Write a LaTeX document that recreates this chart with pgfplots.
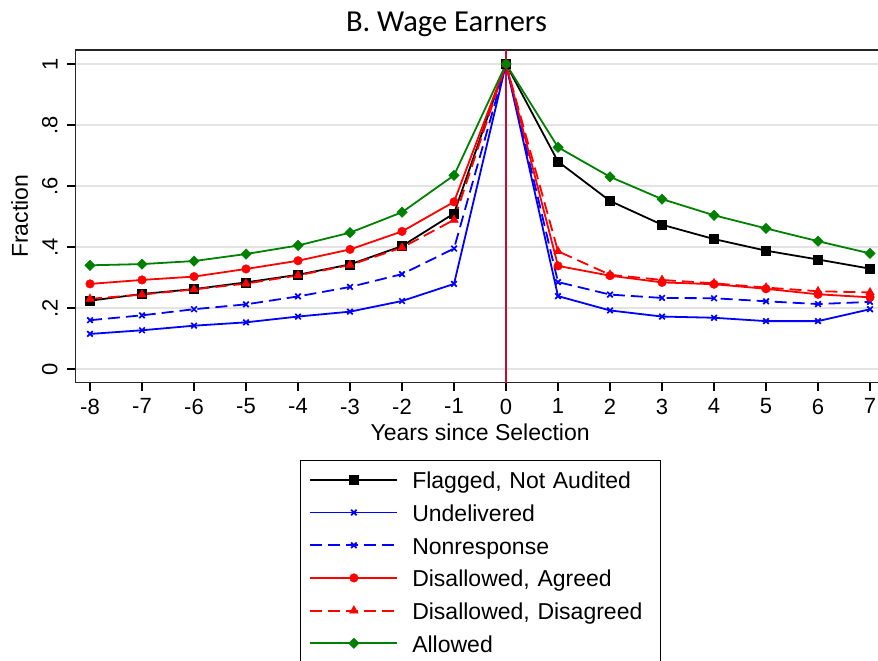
\documentclass[border=0pt]{standalone}
\usepackage{pgfplots}
\pgfplotsset{compat=1.18}
\usepackage{fontspec}
\setmainfont{Liberation Sans}
\newfontfamily\titlefont{Carlito}
\definecolor{vline}{RGB}{200,10,50}
\definecolor{sgreen}{RGB}{0,128,0}
\definecolor{sblue}{RGB}{0,0,255}
\definecolor{sred}{RGB}{255,0,0}
\begin{document}
\begin{tikzpicture}
\begin{axis}[
  at={(0,0)}, anchor=south west,
  scale only axis, width=804.7bp, height=332.7bp,
  xmin=-8.283, xmax=7.192, ymin=-0.0449, ymax=1.0459,
  xtick={-8,-7,-6,-5,-4,-3,-2,-1,0,1,2,3,4,5,6,7},
  xticklabels={-8,-7,-6,-5,-4,-3,-2,-1,0,1,2,3,4,5,6,7},
  ytick={0,0.2,0.4,0.6,0.8,1},
  yticklabels={0,.2,.4,.6,.8,1},
  tick align=outside, xtick pos=bottom, ytick pos=left,
  major tick length=8bp,
  tick style={line width=1.2bp, black},
  axis line style={line width=1.3bp, black!85},
  ymajorgrids, grid style={line width=1.5bp, black!11},
  xticklabel style={font=\fontsize{22bp}{26bp}\selectfont, anchor=north, inner sep=0pt, yshift=-7.8bp},
  yticklabel style={font=\fontsize{22bp}{26bp}\selectfont, xshift=-9.5bp, rotate=90, anchor=south, inner sep=0pt},
  every axis x label/.style={at={(axis description cs:0.5,0)}, xshift=2.5bp, yshift=-40.6bp, anchor=north, inner sep=0pt, font=\fontsize{23bp}{27bp}\selectfont},
  every axis y label/.style={at={(axis description cs:0,0.5)}, xshift=-47bp, rotate=90, anchor=south, inner sep=0pt, font=\fontsize{23bp}{27bp}\selectfont},
  xlabel={Years since Selection},
  ylabel={Fraction},
  legend style={at={(0.2792,-0.2323)}, anchor=north west, draw=black, line width=1bp, fill=white,
    inner xsep=9bp, inner ysep=9bp, row sep=12bp, column sep=14bp,
    font=\fontsize{23bp}{27bp}\selectfont, nodes={inner sep=0pt}, cells={anchor=west},
    /tikz/column 2/.style={text height=19.2bp, text depth=2.8bp, text width=239bp, align=left}},
  legend image code/.code={\draw[mark repeat=2, mark phase=2] plot coordinates {(0bp,0bp) (43.5bp,0bp) (87bp,0bp)};},
]
\addplot[forget plot, vline, line width=1.7bp] coordinates {(0,-0.0449) (0,1.0459)};

\addplot[black, line width=1.8bp, mark=square*, mark size=4.4bp, mark options={solid, line width=0.4bp}] coordinates {
(-8,0.224) (-7,0.246) (-6,0.262) (-5,0.284) (-4,0.309) (-3,0.343) (-2,0.403) (-1,0.510)
(0,1) (1,0.680) (2,0.551) (3,0.473) (4,0.426) (5,0.388) (6,0.359) (7,0.329)};
\addlegendentry{Flagged, Not Audited}

\addplot[sblue, line width=1.8bp, mark=x, mark size=3.9bp, mark options={solid, line width=1.7bp}] coordinates {
(-8,0.115) (-7,0.127) (-6,0.142) (-5,0.153) (-4,0.172) (-3,0.188) (-2,0.223) (-1,0.279)
(0,1) (1,0.239) (2,0.192) (3,0.172) (4,0.168) (5,0.157) (6,0.157) (7,0.196)};
\addlegendentry{Undelivered}

\addplot[sblue, line width=1.8bp, dash pattern=on 12bp off 6bp, mark=x, mark size=3.9bp, mark options={solid, line width=1.7bp}] coordinates {
(-8,0.160) (-7,0.176) (-6,0.196) (-5,0.212) (-4,0.238) (-3,0.269) (-2,0.311) (-1,0.395)
(0,1) (1,0.285) (2,0.244) (3,0.233) (4,0.232) (5,0.222) (6,0.213) (7,0.220)};
\addlegendentry{Nonresponse}

\addplot[sred, line width=1.8bp, mark=*, mark size=4.3bp, mark options={solid, line width=0.4bp}] coordinates {
(-8,0.279) (-7,0.292) (-6,0.303) (-5,0.328) (-4,0.355) (-3,0.392) (-2,0.451) (-1,0.548)
(0,1) (1,0.338) (2,0.306) (3,0.284) (4,0.278) (5,0.263) (6,0.245) (7,0.235)};
\addlegendentry{Disallowed, Agreed}

\addplot[sred, line width=1.8bp, dash pattern=on 12bp off 6bp, mark=triangle*, mark size=5bp, mark options={solid, line width=0.4bp}] coordinates {
(-8,0.230) (-7,0.244) (-6,0.261) (-5,0.280) (-4,0.307) (-3,0.341) (-2,0.398) (-1,0.489)
(0,1) (1,0.386) (2,0.309) (3,0.292) (4,0.281) (5,0.267) (6,0.255) (7,0.251)};
\addlegendentry{Disallowed, Disagreed}

\addplot[sgreen, line width=1.8bp, mark=square*, mark size=3.7bp, mark options={solid, rotate=45, line width=0.4bp}] coordinates {
(-8,0.340) (-7,0.344) (-6,0.354) (-5,0.377) (-4,0.405) (-3,0.447) (-2,0.514) (-1,0.635)
(0,1) (1,0.727) (2,0.630) (3,0.557) (4,0.504) (5,0.461) (6,0.419) (7,0.379)};
\addlegendentry{Allowed}
\end{axis}
\node[font=\titlefont\fontsize{30.5bp}{36bp}\selectfont, anchor=base, inner sep=0pt] at (371.2bp,351bp) {B. Wage Earners};
\pgfresetboundingbox
\path[use as bounding box] (-75.3bp,-278.3bp) rectangle (802.7bp,382.7bp);
\end{tikzpicture}
\end{document}
